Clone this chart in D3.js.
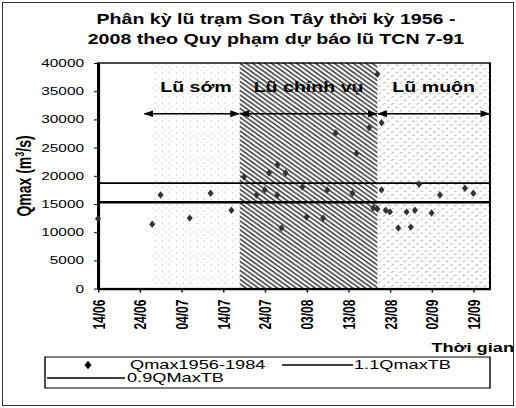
<!DOCTYPE html>
<html><head><meta charset="utf-8">
<script src="https://cdn.jsdelivr.net/npm/d3@7"></script>
<style>body{margin:0;background:#fff}svg{display:block;font-family:"Liberation Sans",Arial,sans-serif}</style>
</head><body><svg id="c" width="516" height="408"></svg>
<script>
// ---------- data ----------
const titleLines = ["Phân kỳ lũ trạm Son Tây thời kỳ 1956 -", "2008 theo Quy phạm dự báo lũ TCN 7-91"];
const xTickLabels = ["14/06","24/06","04/07","14/07","24/07","03/08","13/08","23/08","02/09","12/09"];
const xDomainDates = ["14/06","16/09"];
const yTicks = [0,5000,10000,15000,20000,25000,30000,35000,40000];
const yTitle = "Qmax (m";
const xTitle = "Thời gian";
const pointDates = ["14/06","27/06","29/06","06/07","11/07","16/07",
  "19/07","22/07","24/07","25/07","27/07","27/07","28/07","29/07","02/08","03/08","07/08","08/08","10/08","14/08","15/08","18/08","19/08","21/08","21/08","20/08",
  "20/08","22/08","23/08","25/08","27/08","28/08","29/08","30/08","02/09","04/09","10/09","12/09"];
const pointValues = [12400,11400,16600,12500,16900,13900,
  19800,16600,17500,20500,21900,16600,10750,20500,18000,12700,12500,17500,27600,16900,24000,28500,14300,17500,29400,38000,
  14100,13900,13600,10750,13600,10900,13900,18500,13400,16600,17800,16900];
const qmaxTB = 17000;
const lineFactors = [1.1, 0.9];
const phaseNames = ["Lũ sớm","Lũ chính vụ","Lũ muộn"];
const phaseStarts = ["27/06","18/07","20/08"];
const phaseEnds = ["18/07","20/08","16/09"];
const arrowStarts = ["25/06","18/07","20/08"];
const arrowEnds = ["18/07","20/08","16/09"];
const arrowValue = 31000;
const legendLabels = ["Qmax1956-1984","1.1QmaxTB","0.9QMaxTB"];

// ---------- layout ----------
const K = 1.4;            // horizontal stretch of the scanned figure
const u = px => px / K;   // screen px -> unscaled units
const parse = d3.timeParse("%d/%m");
const svg = d3.select("#c");
const defs = svg.append("defs");

// patterns
const pS = defs.append("pattern").attr("id","pSom").attr("patternUnits","userSpaceOnUse").attr("width",5).attr("height",6);
pS.append("circle").attr("cx",1).attr("cy",1).attr("r",0.5).attr("fill","#aaa");
pS.append("circle").attr("cx",3.5).attr("cy",4).attr("r",0.45).attr("fill","#bbb");
const pC = defs.append("pattern").attr("id","pChinh").attr("patternUnits","userSpaceOnUse").attr("width",4.5).attr("height",4.5);
pC.append("path").attr("d","M-1,-1L5.5,5.5M-1,3.5L1,5.5M3.5,-1L5.5,1").attr("stroke","#333").attr("stroke-width",1.3);
const pM = defs.append("pattern").attr("id","pMuon").attr("patternUnits","userSpaceOnUse").attr("width",6).attr("height",7);
pM.append("path").attr("d","M0.5,3L2.2,1.8M3.5,6.5L5.2,5.3").attr("stroke","#999").attr("stroke-width",0.7);
const patIds = ["pSom","pChinh","pMuon"];

// arrow markers
defs.append("marker").attr("id","ah").attr("viewBox","0 0 10 10").attr("refX",9).attr("refY",5)
  .attr("markerWidth",7).attr("markerHeight",8).attr("markerUnits","userSpaceOnUse").attr("orient","auto-start-reverse")
  .append("path").attr("d","M0,0L10,5L0,10Z").attr("fill","#000");

svg.append("rect").attr("x",2.5).attr("y",2.5).attr("width",511).attr("height",403)
  .attr("fill","none").attr("stroke","#333").attr("stroke-width",1);

const g = svg.append("g").attr("transform",`scale(${K},1)`);

const x = d3.scaleTime().domain(xDomainDates.map(parse)).range([u(98), u(490)]);
const y = d3.scaleLinear().domain([0,40000]).range([288.6, 63]);

// phase shading
phaseNames.forEach((n,i)=>{
  const x0 = x(parse(phaseStarts[i])), x1 = x(parse(phaseEnds[i]));
  g.append("rect").attr("x",x0).attr("y",y(40000)).attr("width",x1-x0).attr("height",y(0)-y(40000))
    .attr("fill",`url(#${patIds[i]})`);
});

// plot frame
g.append("rect").attr("x",x.range()[0]).attr("y",y(40000)).attr("width",x.range()[1]-x.range()[0])
  .attr("height",y(0)-y(40000)).attr("fill","none").attr("stroke","#000").attr("stroke-width",1.4);

// reference lines
lineFactors.forEach((f,i)=>{
  g.append("line").attr("x1",x.range()[0]).attr("x2",x.range()[1])
    .attr("y1",y(qmaxTB*f)).attr("y2",y(qmaxTB*f))
    .attr("stroke","#000").attr("stroke-width", i===0?1.8:2.4);
});

// y axis
const ya = g.append("g").attr("transform",`translate(${x.range()[0]},0)`)
  .call(d3.axisLeft(y).tickValues(yTicks).tickSize(u(4)).tickSizeOuter(0).tickPadding(u(10)).tickFormat(d=>String(d)));
ya.select(".domain").attr("stroke-width",2);
ya.selectAll("text").attr("font-size",11).attr("font-family","Liberation Sans, Arial, sans-serif").attr("fill","#000");

// x axis
const xa = g.append("g").attr("transform",`translate(0,${y(0)})`)
  .call(d3.axisBottom(x).tickValues(xTickLabels.map(parse)).tickSize(4).tickSizeOuter(0).tickFormat(d3.timeFormat("%d/%m")));
xa.select(".domain").attr("stroke-width",2.4);
xa.selectAll("text").attr("x",0).attr("y",0).attr("dy","0.35em")
  .attr("transform","translate(0,11) rotate(-90)").attr("text-anchor","end")
  .attr("font-size",12).attr("font-weight","bold").attr("font-family","Liberation Sans, Arial, sans-serif").attr("fill","#000");

// arrows + phase labels
phaseNames.forEach((n,i)=>{
  const a0 = x(parse(arrowStarts[i])), a1 = x(parse(arrowEnds[i]));
  g.append("line").attr("x1",a0+0.5).attr("x2",a1-0.5).attr("y1",y(arrowValue)).attr("y2",y(arrowValue))
    .attr("stroke","#000").attr("stroke-width",1.6)
    .attr("marker-start","url(#ah)").attr("marker-end","url(#ah)");
  const x0 = x(parse(phaseStarts[i])), x1 = x(parse(phaseEnds[i]));
  g.append("text").attr("x",(x0+x1)/2).attr("y",92).attr("text-anchor","middle")
    .attr("font-size",14).attr("font-weight","bold").text(n);
});

// points
g.selectAll("path.pt").data(pointDates.map((d,i)=>({d:parse(d),v:pointValues[i]}))).join("path")
  .attr("class","pt").attr("transform",d=>`translate(${x(d.d)},${y(d.v)})`)
  .attr("d",d3.symbol(d3.symbolDiamond,16)).attr("fill","#333");

// titles
titleLines.forEach((t,i)=>{
  g.append("text").attr("x",u(276)).attr("y",24+i*20).attr("text-anchor","middle")
    .attr("font-size",14).attr("font-weight","bold").text(t);
});
const yt = g.append("text").attr("transform",`translate(${u(31)},176) rotate(-90)`).attr("text-anchor","middle")
  .attr("font-size",14).attr("font-weight","bold");
yt.append("tspan").text(yTitle);
yt.append("tspan").attr("font-size",9).attr("dy",-5).text("3");
yt.append("tspan").attr("dy",5).text("/s)");
g.append("text").attr("x",u(514)).attr("y",352).attr("text-anchor","end")
  .attr("font-size",13).attr("font-weight","bold").text(xTitle);

// legend
const lg = g.append("g");
lg.append("rect").attr("x",u(45)).attr("y",357).attr("width",u(490-45)).attr("height",31)
  .attr("fill","none").attr("stroke","#000").attr("stroke-width",1);
lg.append("path").attr("transform",`translate(${u(88)},365)`).attr("d",d3.symbol(d3.symbolDiamond,22)).attr("fill","#000");
lg.append("text").attr("x",u(130)).attr("y",369).attr("font-size",13).text(legendLabels[0]);
lg.append("line").attr("x1",u(282)).attr("x2",u(353)).attr("y1",365).attr("y2",365).attr("stroke","#000").attr("stroke-width",1.3);
lg.append("text").attr("x",u(354)).attr("y",369).attr("font-size",13).text(legendLabels[1]);
lg.append("line").attr("x1",u(47)).attr("x2",u(125)).attr("y1",378).attr("y2",378).attr("stroke","#000").attr("stroke-width",1.3);
lg.append("text").attr("x",u(127)).attr("y",382).attr("font-size",13).text(legendLabels[2]);
</script></body></html>
